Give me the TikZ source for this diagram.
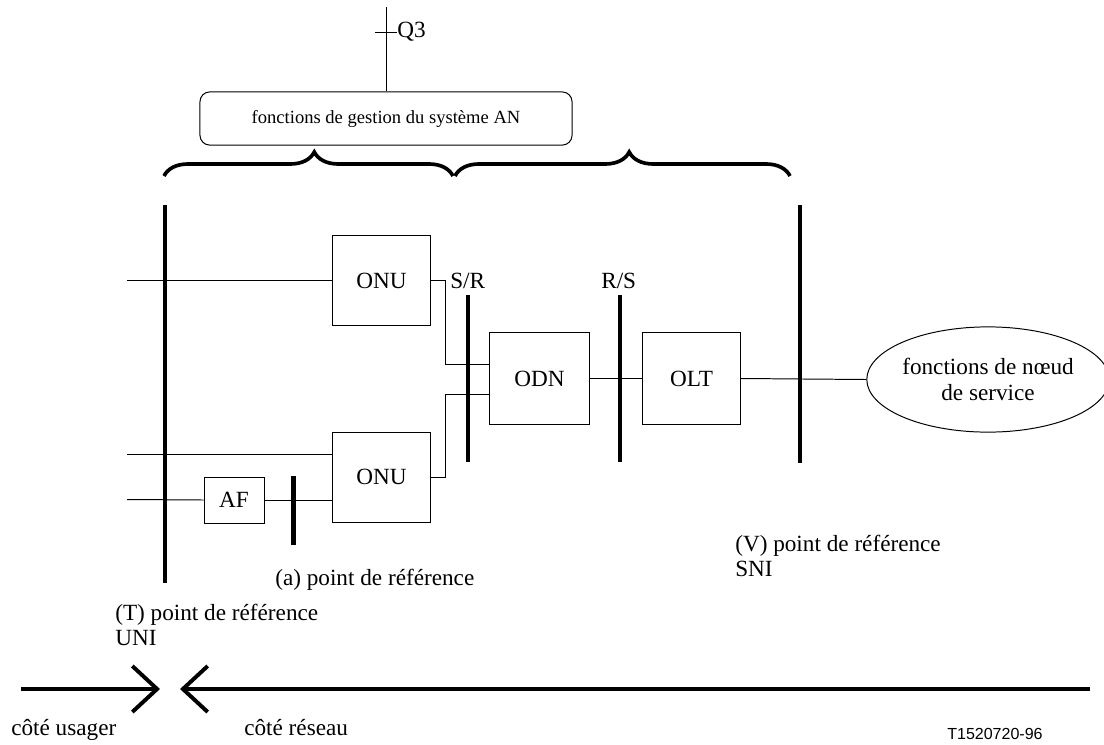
\documentclass[tikz,border=0pt]{standalone}
\usepackage{fontspec}
\setmainfont{Liberation Serif}
\newfontfamily\tagfont{Liberation Sans}
\usetikzlibrary{arrows.meta, positioning, shapes.geometric, decorations.pathreplacing, calc}

\begin{document}
\begin{tikzpicture}[
    x=0.025cm, y=-0.025cm,
    font=\fontsize{16.5}{19}\selectfont,
    unit/.style={rectangle, draw=black, line width=0.7pt, minimum width=2.43cm, minimum height=2.25cm, inner sep=0pt, align=center},
    mgmt/.style={rectangle, rounded corners=7pt, draw=black, line width=0.7pt, minimum width=9.3cm, minimum height=1.33cm, font=\fontsize{13.2}{16}\selectfont},
    lbl/.style={inner sep=0pt, anchor=base west},
    wire/.style={line width=0.7pt},
    bar/.style={line width=3pt},
    brace/.style={decorate, decoration={brace, amplitude=0.6cm, aspect=0.52}, line width=2.6pt},
    side/.style={-{Straight Barb[length=0.62cm, width=1.15cm]}, line width=2.8pt}
]
\useasboundingbox (0,0) rectangle (1104,744);

% management
\node[mgmt] (gest) at (386,118.5) {fonctions de gestion du système AN};
\coordinate (q3) at (386,7);
\draw[wire] (gest.north) -- (q3);
\draw[wire] (375,32) -- (397,32) node[lbl, anchor=west] (q3lbl) {Q3};

\draw[brace] (164,176) -- (453,176);
\draw[brace] (455,176) -- (790,176);

% access network units
\node[unit] (onua) at (381.5,280.5) {ONU};
\node[unit] (onub) at (381.5,477) {ONU};
\node[unit, minimum width=1.5cm, minimum height=1.15cm] (af) at (234,500) {AF};
\node[unit, minimum width=2.48cm, minimum height=2.28cm] (odn) at (539.5,378.5) {ODN};
\node[unit, minimum width=2.45cm, minimum height=2.28cm] (olt) at (691.5,378.5) {OLT};
\node[ellipse, draw=black, line width=0.7pt, minimum width=5.65cm, minimum height=2.63cm, inner sep=0pt, align=center] (nodal) at (988,379.5) {fonctions de nœud\\de service};

% reference points
\draw[bar] (165,205) -- (165,583);
\draw[bar] (800,205) -- (800,463);
\draw[bar] (468,295) -- (468,462);
\draw[bar] (620,295) -- (620,462);
\draw[bar] (293.5,476) -- (293.5,545);

\node[lbl] (sr) at (450,288) {S/R};
\node[lbl] (rs) at (601,288) {R/S};

% connections
\coordinate (ina) at (127,280.5);
\coordinate (inb) at (127,454);
\coordinate (inc) at (127,499.5);
\coordinate (odnina) at (490,364);
\coordinate (odninb) at (490,394);

\draw[wire] (ina) -- (onua.west);
\draw[wire] (inb) -- (inb -| onub.west);
\draw[wire] (inc) -- (af.west);
\draw[wire] (af.east) -- (af.east -| onub.west);
\draw[wire] (onua.east) -- ++(15,0) |- (odnina);
\draw[wire] (onub.east) -- ++(15,0) |- (odninb);
\draw[wire] (odn.east) -- (olt.west);
\draw[wire] (olt.east) -- (nodal.west);

% labels
\node[lbl] (vref) at (735,551) {(V) point de référence};
\node[lbl] (sni) at (735,576) {SNI};
\node[lbl] (aref) at (275,585) {(a) point de référence};
\node[lbl] (tref) at (115,620) {(T) point de référence};
\node[lbl] (uni) at (115,645) {UNI};

% sides
\coordinate (usr) at (21,689);
\coordinate (usrtip) at (160,689);
\coordinate (net) at (1090,689);
\coordinate (nettip) at (180,689);
\draw[side] (usr) -- (usrtip);
\draw[side] (net) -- (nettip);

\node[lbl] (cusr) at (11,735) {côté usager};
\node[lbl] (cnet) at (244,735) {côté réseau};
\node[lbl, font=\tagfont\fontsize{11.4}{13}\selectfont] (tag) at (947,739) {T1520720-96};

\end{tikzpicture}
\end{document}
